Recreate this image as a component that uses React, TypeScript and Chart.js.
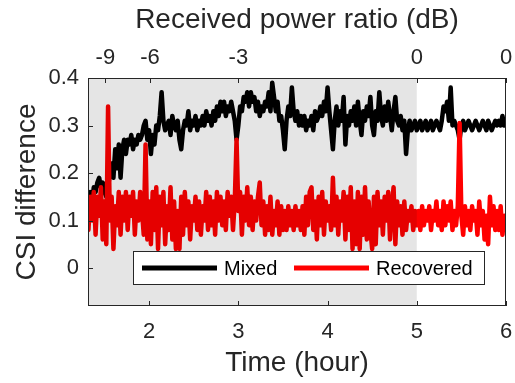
import React, { useEffect, useRef } from 'react';
import { Chart, registerables } from 'chart.js';

Chart.register(...registerables);

// ---- data ----
const startHour = 1.32;
const stepHour = 0.02;

const mixed = [
  0.15, 0.16, 0.14, 0.17, 0.16,
  0.18, 0.19, 0.17, 0.18, 0.16,
  0.15, 0.17, 0.20, 0.22, 0.19,
  0.25, 0.21, 0.26, 0.19, 0.25,
  0.27, 0.24, 0.27, 0.26, 0.28,
  0.25, 0.27, 0.26, 0.28, 0.27,
  0.28, 0.30, 0.31, 0.27, 0.29,
  0.24, 0.28, 0.26, 0.30, 0.29,
  0.32, 0.37, 0.31, 0.29, 0.30,
  0.31, 0.28, 0.32, 0.30, 0.29,
  0.31, 0.27, 0.25, 0.29, 0.31,
  0.30, 0.33, 0.29, 0.31, 0.30,
  0.32, 0.29, 0.31, 0.30, 0.32,
  0.30, 0.33, 0.31, 0.32, 0.30,
  0.33, 0.31, 0.34, 0.32, 0.35,
  0.33, 0.35, 0.32, 0.34, 0.33,
  0.35, 0.33, 0.31, 0.27, 0.30,
  0.34, 0.33, 0.36, 0.35, 0.37,
  0.34, 0.37, 0.35, 0.36, 0.33,
  0.35, 0.32, 0.34, 0.33, 0.35,
  0.34, 0.37, 0.33, 0.39, 0.36,
  0.33, 0.35, 0.31, 0.32, 0.29,
  0.25, 0.31, 0.34, 0.32, 0.38,
  0.33, 0.31, 0.33, 0.30, 0.32,
  0.30, 0.32, 0.29, 0.31, 0.30,
  0.32, 0.29, 0.33, 0.31, 0.32,
  0.34, 0.32, 0.35, 0.33, 0.38,
  0.33, 0.29, 0.25, 0.31, 0.34,
  0.30, 0.33, 0.31, 0.36, 0.26,
  0.32, 0.30, 0.33, 0.31, 0.34,
  0.30, 0.35, 0.31, 0.28, 0.33,
  0.31, 0.34, 0.32, 0.36, 0.30,
  0.28, 0.33, 0.31, 0.37, 0.32,
  0.30, 0.34, 0.31, 0.35, 0.32,
  0.29, 0.33, 0.36, 0.31, 0.30,
  0.32, 0.29, 0.31, 0.24, 0.29,
  0.31, 0.29, 0.30, 0.31, 0.29,
  0.30, 0.31, 0.29, 0.30, 0.31,
  0.29, 0.30, 0.31, 0.29, 0.30,
  0.31, 0.30, 0.29, 0.31, 0.34,
  0.33, 0.35, 0.31, 0.38, 0.30,
  0.31, 0.30, 0.29, 0.27, 0.30,
  0.31, 0.29, 0.30, 0.31, 0.30,
  0.29, 0.30, 0.31, 0.30, 0.29,
  0.30, 0.31, 0.30, 0.29, 0.31,
  0.30, 0.29, 0.30, 0.31, 0.30,
  0.31, 0.30, 0.32, 0.30, 0.31,
];

const recovered = [
  0.08, 0.15, 0.10, 0.16, 0.07,
  0.15, 0.11, 0.17, 0.06, 0.14,
  0.05, 0.34, 0.10, 0.15, 0.04,
  0.13, 0.09, 0.16, 0.07, 0.15,
  0.10, 0.16, 0.08, 0.15, 0.11,
  0.16, 0.07, 0.14, 0.10, 0.16,
  0.12, 0.07, 0.26, 0.06, 0.14,
  0.05, 0.16, 0.08, 0.17, 0.04,
  0.15, 0.09, 0.16, 0.05, 0.13,
  0.08, 0.17, 0.06, 0.14, 0.04,
  0.12, 0.04, 0.15, 0.07, 0.16,
  0.09, 0.14, 0.06, 0.13, 0.10,
  0.15, 0.08, 0.14, 0.07, 0.13,
  0.10, 0.16, 0.08, 0.15, 0.09,
  0.14, 0.07, 0.16, 0.10, 0.15,
  0.09, 0.14, 0.08, 0.16, 0.11,
  0.15, 0.08, 0.14, 0.27, 0.12,
  0.16, 0.07, 0.15, 0.10, 0.17,
  0.09, 0.15, 0.08, 0.14, 0.10,
  0.15, 0.18, 0.09, 0.14, 0.07,
  0.13, 0.08, 0.15, 0.07, 0.12,
  0.09, 0.14, 0.07, 0.13, 0.08,
  0.12, 0.08, 0.13, 0.09, 0.12,
  0.08, 0.13, 0.09, 0.12, 0.08,
  0.13, 0.07, 0.15, 0.09, 0.16,
  0.17, 0.08, 0.14, 0.06, 0.15,
  0.09, 0.16, 0.07, 0.14, 0.10,
  0.13, 0.08, 0.19, 0.09, 0.15,
  0.07, 0.14, 0.10, 0.16, 0.06,
  0.15, 0.08, 0.17, 0.04, 0.14,
  0.05, 0.16, 0.04, 0.15, 0.07,
  0.17, 0.06, 0.14, 0.08, 0.04,
  0.15, 0.05, 0.16, 0.09, 0.14,
  0.07, 0.15, 0.10, 0.16, 0.06,
  0.13, 0.17, 0.05, 0.14, 0.09,
  0.13, 0.07, 0.14, 0.08, 0.12,
  0.10, 0.13, 0.08, 0.12, 0.09,
  0.12, 0.08, 0.13, 0.09, 0.12,
  0.10, 0.13, 0.08, 0.12, 0.10,
  0.14, 0.09, 0.12, 0.08, 0.14,
  0.09, 0.13, 0.10, 0.14, 0.08,
  0.12, 0.09, 0.13, 0.305, 0.11,
  0.07, 0.13, 0.09, 0.12, 0.08,
  0.13, 0.10, 0.12, 0.07, 0.14,
  0.09, 0.12, 0.06, 0.11, 0.05,
  0.15, 0.09, 0.13, 0.08, 0.12,
  0.08, 0.13, 0.07, 0.11, 0.10,
];

const seriesLabels = ['Mixed', 'Recovered'];
const seriesColors = ['#000000', '#ff0000'];
const timeTicks = [2, 3, 4, 5, 6];
const powerTickPositions = [1.51, 2.01, 3, 5, 6];
const powerTickLabels = ['-9', '-6', '-3', '0', '0'];
const yTicks = [0, 0.1, 0.2, 0.3, 0.4];
const xMin = 1.315;
const xMax = 6;
const yMin = -0.08;
const yMax = 0.4;
const shadeEnd = 5;

const FONT = "'Liberation Sans', Arial, Helvetica, sans-serif";
const AX = '#262626';

const decorPlugin = {
  id: 'matlabDecor',
  afterDatasetsDraw(chart: any) {
    const { ctx, chartArea: a, scales } = chart;
    const xe = scales.x.getPixelForValue(shadeEnd);
    ctx.save();
    ctx.fillStyle = 'rgba(0,0,0,0.1)';
    ctx.fillRect(a.left, a.top, xe - a.left, a.bottom - a.top);
    ctx.restore();
  },
  afterDraw(chart: any) {
    const { ctx, chartArea: a, scales } = chart;
    ctx.save();
    // box
    ctx.strokeStyle = AX;
    ctx.lineWidth = 1;
    ctx.strokeRect(a.left + 0.5, a.top + 0.5, a.right - a.left - 1, a.bottom - a.top - 1);
    // inward ticks
    const tl = 5;
    ctx.beginPath();
    timeTicks.forEach((t) => {
      const px = Math.round(scales.x.getPixelForValue(t)) + 0.5;
      ctx.moveTo(px, a.bottom);
      ctx.lineTo(px, a.bottom - tl);
    });
    powerTickPositions.forEach((t) => {
      const px = Math.round(scales.x2.getPixelForValue(t)) + 0.5;
      ctx.moveTo(px, a.top);
      ctx.lineTo(px, a.top + tl);
    });
    yTicks.forEach((t) => {
      const py = Math.round(scales.y.getPixelForValue(t)) + 0.5;
      ctx.moveTo(a.left, py);
      ctx.lineTo(a.left + tl, py);
    });
    ctx.stroke();

    // legend
    const lw = 352;
    const lh = 34;
    const lx = a.right - 21 - lw;
    const ly = a.bottom - 21 - lh;
    ctx.fillStyle = '#ffffff';
    ctx.fillRect(lx, ly, lw, lh);
    ctx.strokeStyle = AX;
    ctx.strokeRect(lx + 0.5, ly + 0.5, lw - 1, lh - 1);
    const cy = ly + lh / 2;
    const items = [
      { x: lx + 9, label: seriesLabels[0], color: seriesColors[0] },
      { x: lx + 161, label: seriesLabels[1], color: seriesColors[1] },
    ];
    ctx.font = `20px ${FONT}`;
    ctx.textBaseline = 'middle';
    ctx.textAlign = 'left';
    items.forEach((it) => {
      ctx.strokeStyle = it.color;
      ctx.lineWidth = 5;
      ctx.beginPath();
      ctx.moveTo(it.x, cy);
      ctx.lineTo(it.x + 75, cy);
      ctx.stroke();
      ctx.fillStyle = '#000000';
      ctx.fillText(it.label, it.x + 82, cy + 1);
    });
    ctx.restore();
  },
};

export default function App() {
  const ref = useRef<HTMLCanvasElement | null>(null);
  useEffect(() => {
    const canvas = ref.current;
    if (!canvas) return;
    const hours = mixed.map((_, i) => +(startHour + i * stepHour).toFixed(2));
    const chart = new Chart(canvas, {
      type: 'line',
      data: {
        datasets: [
          {
            label: seriesLabels[0],
            data: hours.map((h, i) => ({ x: h, y: mixed[i] })),
            borderColor: seriesColors[0],
            borderWidth: 4.5,
            pointRadius: 0,
            tension: 0,
            clip: 0,
            order: 1,
            borderJoinStyle: 'round',
            borderCapStyle: 'round',
          },
          {
            label: seriesLabels[1],
            data: hours.map((h, i) => ({ x: h, y: recovered[i] })),
            borderColor: seriesColors[1],
            borderWidth: 4.5,
            pointRadius: 0,
            tension: 0,
            clip: 0,
            order: 0,
            borderJoinStyle: 'round',
            borderCapStyle: 'round',
          },
        ],
      },
      options: {
        animation: false,
        responsive: false,
        maintainAspectRatio: false,
        devicePixelRatio: 1,
        events: [],
        layout: { padding: { left: 0, right: 9, top: 0, bottom: 0 } },
        plugins: { legend: { display: false }, tooltip: { enabled: false } },
        scales: {
          x: {
            type: 'linear',
            position: 'bottom',
            min: xMin,
            max: xMax,
            grid: { display: false, drawTicks: false },
            border: { display: false },
            afterBuildTicks: (s: any) => {
              s.ticks = timeTicks.map((v) => ({ value: v }));
            },
            afterFit: (s: any) => {
              s.height = 77;
              s.paddingLeft = 0;
              s.paddingRight = 0;
            },
            ticks: {
              autoSkip: false,
              maxRotation: 0,
              padding: 13,
              color: AX,
              font: { family: FONT, size: 22 },
              callback: (v: any) => String(v),
            },
            title: {
              display: true,
              text: 'Time (hour)',
              color: AX,
              font: { family: FONT, size: 28 },
              padding: { top: 0, bottom: 3 },
            },
          },
          x2: {
            type: 'linear',
            position: 'top',
            min: xMin,
            max: xMax,
            grid: { display: false, drawTicks: false },
            border: { display: false },
            afterBuildTicks: (s: any) => {
              s.ticks = powerTickPositions.map((v) => ({ value: v }));
            },
            afterFit: (s: any) => {
              s.height = 78;
              s.paddingLeft = 0;
              s.paddingRight = 0;
            },
            ticks: {
              autoSkip: false,
              maxRotation: 0,
              padding: 7,
              color: AX,
              font: { family: FONT, size: 22 },
              callback: (_v: any, i: number) => powerTickLabels[i],
            },
            title: {
              display: true,
              text: 'Received power ratio (dB)',
              color: AX,
              font: { family: FONT, size: 28 },
              padding: { top: 3, bottom: 0 },
            },
          },
          y: {
            type: 'linear',
            min: yMin,
            max: yMax,
            grid: { display: false, drawTicks: false },
            border: { display: false },
            afterBuildTicks: (s: any) => {
              s.ticks = yTicks.map((v) => ({ value: v }));
            },
            afterFit: (s: any) => {
              s.width = 88;
              s.paddingTop = 0;
              s.paddingBottom = 0;
            },
            ticks: {
              autoSkip: false,
              padding: 9,
              color: AX,
              font: { family: FONT, size: 22 },
              callback: (v: any) => (v === 0 ? '0' : Number(v).toFixed(1)),
            },
            title: {
              display: true,
              text: 'CSI difference',
              color: AX,
              font: { family: FONT, size: 28 },
              padding: { top: 10, bottom: 4 },
            },
          },
        },
      },
      plugins: [decorPlugin],
    } as any);
    return () => chart.destroy();
  }, []);

  return (
    <div style={{ position: 'fixed', left: 0, top: 0, width: 515, height: 383, background: '#ffffff' }}>
      <canvas ref={ref} width={515} height={383} style={{ display: 'block', width: 515, height: 383 }} />
    </div>
  );
}
